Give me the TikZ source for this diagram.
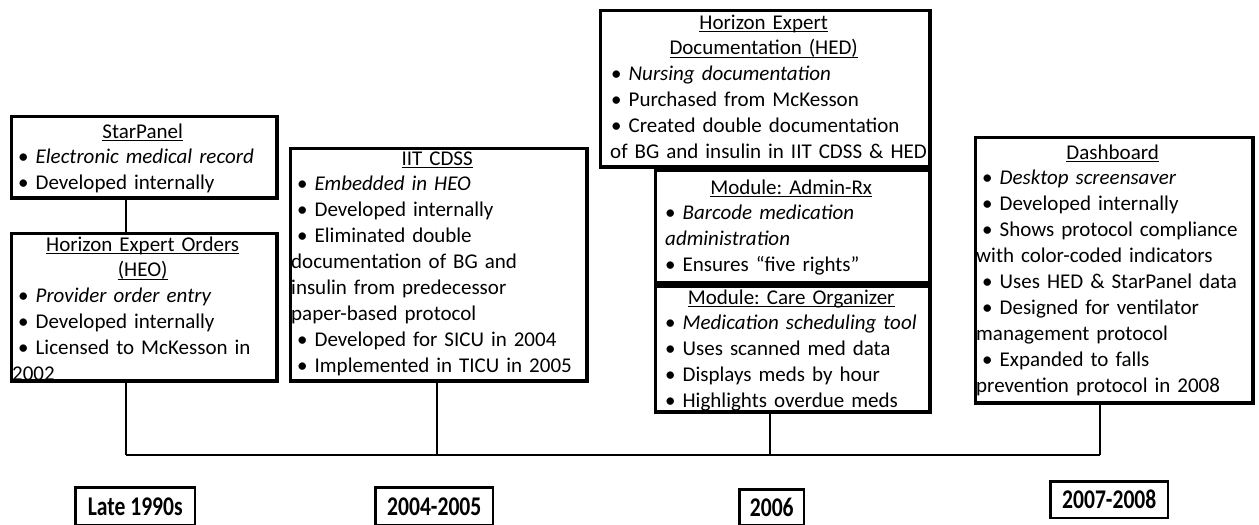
\documentclass[tikz,border=0pt]{standalone}
\usepackage{fontspec}
\setmainfont{Carlito}
\frenchspacing
\newcommand\bodyfont{\fontsize{21}{25.9}\selectfont\frenchspacing}
\newcommand\yearfont{\fontsize{27}{27}\selectfont\bfseries}
\newcommand\myul[1]{\leavevmode\setbox0\hbox{#1}\rlap{\rule[-3.4pt]{\wd0}{1.3pt}}\box0}
\newcommand\bl[1][6pt]{\hspace*{#1}•\ }
\newcommand\yr[1]{\scalebox{0.8}[1]{\yearfont #1}}
\tikzset{
  box/.style={draw, line width=3.5pt, inner sep=0pt, anchor=north west},
  txt/.style={anchor=base west, inner sep=0pt, font=\bodyfont},
  yearbox/.style={draw, line width=2.5pt, inner sep=0pt, anchor=north west},
  tline/.style={line width=2pt},
}
\begin{document}
\begin{tikzpicture}[x=1pt,y=-1pt]
\useasboundingbox (0,0) rectangle (1259,525);
% boxes: outer edges
\node[box, minimum width=265.5, minimum height=81.5] (sp) at (9.75,114.75) {};
\node[box, minimum width=265.5, minimum height=147.5] (heo) at (9.75,231.75) {};
\node[box, minimum width=296.5, minimum height=232.5] (iit) at (288.75,146.75) {};
\node[box, minimum width=329.5, minimum height=156.5] (hed) at (598.75,8.75) {};
\node[box, minimum width=274.5, minimum height=112.5] (adm) at (653.75,168.75) {};
\node[box, minimum width=274.5, minimum height=125.5] (care) at (653.75,284.75) {};
\node[box, minimum width=277.5, minimum height=265.5] (dash) at (973.75,135.75) {};
% texts
\node[txt, text width=261] (spt) at (12,138) {{\centering\myul{StarPanel}\par}\raggedright
\bl\textit{Electronic medical record}\\
\bl Developed internally};
\node[txt, text width=261] (heot) at (12,251) {{\centering\myul{Horizon Expert Orders}\\\myul{(HEO)}\par}\raggedright
\bl\textit{Provider order entry}\\
\bl Developed internally\\
\bl Licensed to McKesson in\\
2002};
\node[txt, text width=292] (iitt) at (291,165) {{\centering\myul{IIT CDSS}\par}\raggedright
\bl\textit{Embedded in HEO}\\
\bl Developed internally\\
\bl Eliminated double\\
documentation of BG and\\
insulin from predecessor\\
paper-based protocol\\
\bl Developed for SICU in 2004\\
\bl Implemented in TICU in 2005};
\node[txt, text width=325] (hedt) at (601,29) {{\centering\myul{Horizon Expert}\\\myul{Documentation (HED)}\par}\raggedright
\bl[10pt]\textit{Nursing documentation}\\
\bl[10pt]Purchased from McKesson\\
\bl[10pt]Created double documentation\\
\hspace*{9pt}\mbox{of BG and insulin in IIT CDSS \& HED}};
\node[txt, text width=270] (admt) at (656,194) {{\centering\myul{Module: Admin-Rx}\par}\raggedright
\bl[9pt]\textit{Barcode medication}\\
\hspace*{9pt}\textit{administration}\\
\bl[9pt]Ensures “five rights”};
\node[txt, text width=270] (caret) at (656,304) {{\centering\myul{Module: Care Organizer}\par}\raggedright
\bl[9pt]\textit{Medication scheduling tool}\\
\bl[9pt]Uses scanned med data\\
\bl[9pt]Displays meds by hour\\
\bl[9pt]Highlights overdue meds};
\node[txt, text width=273] (dasht) at (976,159) {{\centering\myul{Dashboard}\par}\raggedright
\bl\textit{Desktop screensaver}\\
\bl Developed internally\\
\bl Shows protocol compliance\\
with color-coded indicators\\
\bl Uses HED \& StarPanel data\\
\bl Designed for ventilator\\
management protocol\\
\bl Expanded to falls\\
prevention protocol in 2008};
% timeline
\coordinate (t1) at (126,455);
\coordinate (t2) at (437,455);
\coordinate (t3) at (770,455);
\coordinate (t4) at (1100,455);
\draw[tline] (sp.south -| t1) -- (heo.north -| t1);
\draw[tline] (heo.south -| t1) -- (t1);
\draw[line width=2.6pt] (iit.south -| t2) -- (t2);
\draw[tline] (care.south -| t3) -- (t3);
\draw[tline] (dash.south -| t4) -- (t4);
\draw[tline] (t1) -- (t4);
% year labels
\node[yearbox, minimum width=119.5, minimum height=37.5] (y1) at (74.25,486.25) {\yr{Late 1990s}};
\node[yearbox, minimum width=117.5, minimum height=37.5] (y2) at (374.25,486.25) {\yr{2004-2005}};
\node[yearbox, minimum width=64.5, minimum height=35.5] (y3) at (738.25,488.25) {\yr{2006}};
\node[yearbox, minimum width=117.5, minimum height=36.5] (y4) at (1049.25,480.25) {\yr{2007-2008}};
\end{tikzpicture}
\end{document}
